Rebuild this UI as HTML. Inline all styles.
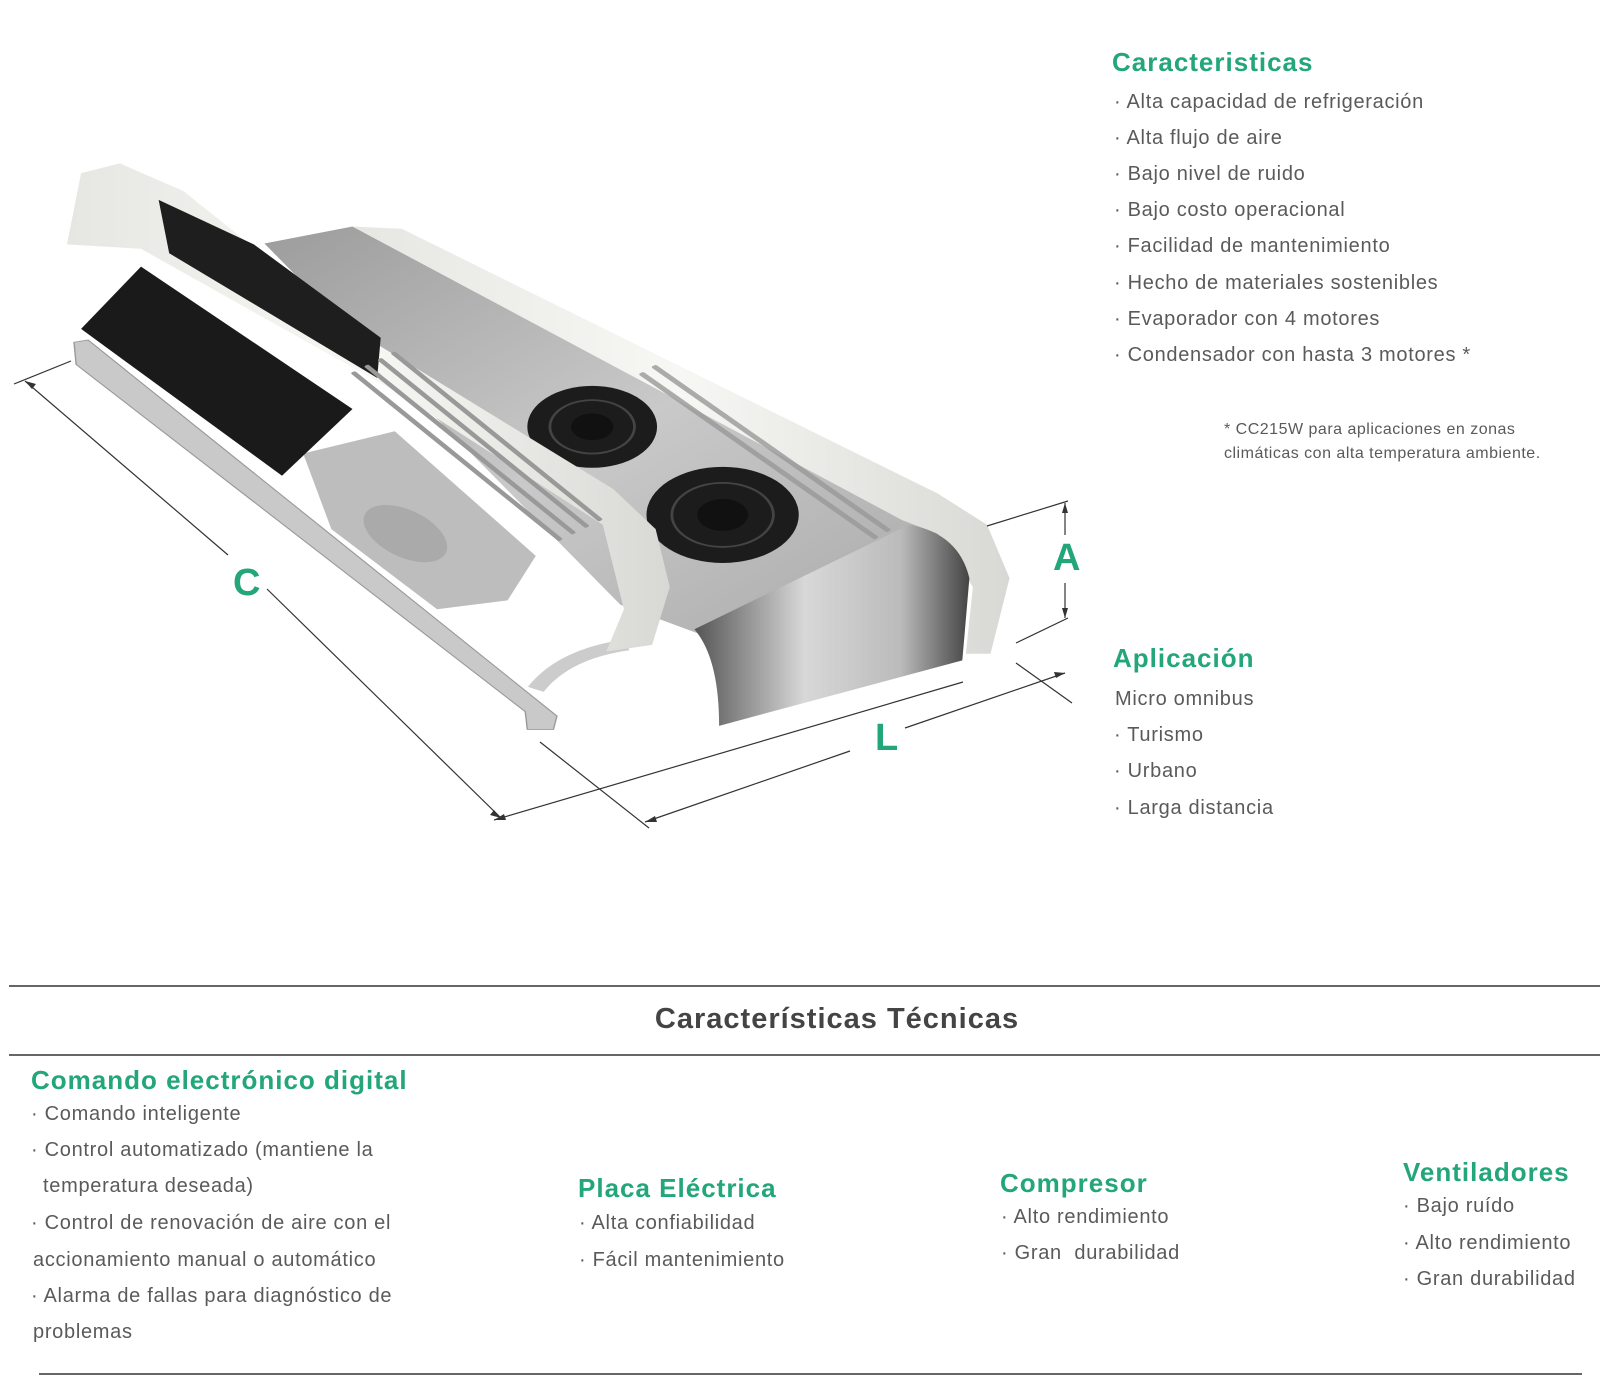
<!DOCTYPE html>
<html><head><meta charset="utf-8"><style>
html,body{margin:0;padding:0;background:#fff;}
body{width:1602px;height:1398px;position:relative;overflow:hidden;font-family:"Liberation Sans",sans-serif;}
.t{position:absolute;white-space:nowrap;color:#5a5a5a;font-size:20px;letter-spacing:0.7px;line-height:22px;}
.h{position:absolute;white-space:nowrap;color:#22a67a;font-weight:bold;font-size:26px;letter-spacing:1px;line-height:30px;}
.hr{position:absolute;height:2px;background:#666;}
</style></head><body>
<svg width="1602" height="1398" style="position:absolute;left:0;top:0">
<defs>
<linearGradient id="sil" x1="0" y1="0" x2="1" y2="1"><stop offset="0" stop-color="#9c9c9c"/><stop offset="0.5" stop-color="#c9c9c9"/><stop offset="1" stop-color="#a8a8a8"/></linearGradient>
<linearGradient id="front" x1="0" y1="0" x2="1" y2="0"><stop offset="0" stop-color="#555"/><stop offset="0.4" stop-color="#d8d8d8"/><stop offset="0.75" stop-color="#bbb"/><stop offset="1" stop-color="#444"/></linearGradient>
<linearGradient id="wh" x1="0" y1="0" x2="1" y2="0"><stop offset="0" stop-color="#e6e6e2"/><stop offset="0.5" stop-color="#f7f7f4"/><stop offset="1" stop-color="#d8d8d4"/></linearGradient>
</defs>
<g transform="translate(0,142) scale(0.705,0.445)">
<polygon points="375,228 500,190 1290,855 1380,900 1000,1110 880,1040" fill="url(#sil)"/>
<polygon points="500,190 570,195 1330,790 1400,860 1432,980 1405,1150 1370,1150 1380,1000 1330,880 1280,850" fill="url(#wh)"/>
<path d="M985,1095 L1290,860 Q1360,880 1375,980 L1365,1165 L1020,1312 Q1020,1160 985,1095 Z" fill="url(#front)"/>
<circle cx="840" cy="640" r="92" fill="#1c1c1c"/><circle cx="840" cy="640" r="60" fill="none" stroke="#444" stroke-width="4"/><circle cx="840" cy="640" r="30" fill="#111"/>
<circle cx="1025" cy="838" r="108" fill="#1c1c1c"/><circle cx="1025" cy="838" r="72" fill="none" stroke="#444" stroke-width="4"/><circle cx="1025" cy="838" r="36" fill="#111"/>
<polygon points="105,450 125,445 790,1290 785,1320 748,1320 745,1280 108,500" fill="#c9c9c9" stroke="#999" stroke-width="2"/>
<polygon points="430,700 560,650 760,930 720,1030 620,1050 470,870" fill="#bdbdbd"/>
<ellipse cx="575" cy="880" rx="45" ry="75" transform="rotate(-40 575 880)" fill="#aaa"/>
<path d="M760,1230 Q800,1150 890,1130" fill="none" stroke="#ccc" stroke-width="25"/>
<polygon points="115,420 200,280 500,600 400,750" fill="#1a1a1a"/>
<polygon points="95,230 115,70 170,48 260,110 520,440 870,780 930,870 950,1000 925,1130 860,1145 885,1050 855,860 560,560 200,240" fill="url(#wh)"/>
<polygon points="225,130 360,230 540,440 535,530 240,250" fill="#1e1e1e"/>
<g fill="#999">
<g transform="translate(560,470) rotate(52)"><rect x="0" y="0" width="480" height="8" rx="3"/><rect x="0" y="24" width="480" height="8" rx="3"/><rect x="0" y="48" width="480" height="8" rx="3"/><rect x="0" y="72" width="480" height="8" rx="3"/></g>
<g transform="translate(930,500) rotate(48)" opacity="0.8"><rect x="0" y="0" width="500" height="9" rx="3"/><rect x="0" y="24" width="500" height="9" rx="3"/></g>
</g>
</g>
<g stroke="#333" stroke-width="1.2" fill="none">
<line x1="14" y1="384" x2="71" y2="361"/>
<line x1="25" y1="381" x2="228" y2="555"/>
<line x1="267" y1="589" x2="501" y2="818"/>
<line x1="540" y1="742" x2="649" y2="828"/>
<line x1="494" y1="820" x2="963" y2="682"/>
<line x1="645" y1="822" x2="850" y2="751"/>
<line x1="905" y1="728" x2="1065" y2="673"/>
<line x1="1016" y1="663" x2="1072" y2="703"/>
<line x1="987" y1="526" x2="1068" y2="501"/>
<line x1="1016" y1="643" x2="1068" y2="618"/>
<line x1="1065" y1="503" x2="1065" y2="535"/>
<line x1="1065" y1="583" x2="1065" y2="618"/>
</g>
<g fill="#333">
<polygon points="25,381 36,384 32,389"/>
<polygon points="501,818 490,815 494,810"/>
<polygon points="494,820 504,814 506,820"/>
<polygon points="1065,673 1054,672 1056,678"/>
<polygon points="645,822 655,816 657,822"/>
<polygon points="1065,503 1062,513 1068,513"/>
<polygon points="1065,618 1062,608 1068,608"/>
</g>
</svg>
<div class="h" style="left:233px;top:563px;font-size:38px;line-height:40px">C</div>
<div class="h" style="left:875px;top:718px;font-size:38px;line-height:40px">L</div>
<div class="h" style="left:1053px;top:538px;font-size:38px;line-height:40px">A</div>

<div class="h" style="left:1112px;top:47px">Caracteristicas</div>
<div class="t" style="left:1114px;top:91px">· Alta capacidad de refrigeración</div>
<div class="t" style="left:1114px;top:127px">· Alta flujo de aire</div>
<div class="t" style="left:1114px;top:163px">· Bajo nivel de ruido</div>
<div class="t" style="left:1114px;top:199px">· Bajo costo operacional</div>
<div class="t" style="left:1114px;top:235px">· Facilidad de mantenimiento</div>
<div class="t" style="left:1114px;top:272px">· Hecho de materiales sostenibles</div>
<div class="t" style="left:1114px;top:308px">· Evaporador con 4 motores</div>
<div class="t" style="left:1114px;top:344px">· Condensador con hasta 3 motores *</div>
<div class="t" style="left:1224px;top:420px;font-size:16px;letter-spacing:0.5px;line-height:20px">* CC215W para aplicaciones en zonas</div>
<div class="t" style="left:1224px;top:444px;font-size:16px;letter-spacing:0.5px;line-height:20px">climáticas con alta temperatura ambiente.</div>

<div class="h" style="left:1113px;top:643px">Aplicación</div>
<div class="t" style="left:1115px;top:688px">Micro omnibus</div>
<div class="t" style="left:1114px;top:724px">· Turismo</div>
<div class="t" style="left:1114px;top:760px">· Urbano</div>
<div class="t" style="left:1114px;top:797px">· Larga distancia</div>

<div class="hr" style="left:9px;top:985px;width:1591px"></div>
<div style="position:absolute;left:0;width:1674px;top:1003px;text-align:center;font-weight:bold;font-size:29px;letter-spacing:1px;color:#444">Características Técnicas</div>
<div class="hr" style="left:9px;top:1054px;width:1591px"></div>
<div class="hr" style="left:39px;top:1373px;width:1543px"></div>

<div class="h" style="left:31px;top:1065px">Comando electrónico digital</div>
<div class="t" style="left:31px;top:1103px">· Comando inteligente</div>
<div class="t" style="left:31px;top:1139px">· Control automatizado (mantiene la</div>
<div class="t" style="left:43px;top:1175px">temperatura deseada)</div>
<div class="t" style="left:31px;top:1212px">· Control de renovación de aire con el</div>
<div class="t" style="left:33px;top:1249px">accionamiento manual o automático</div>
<div class="t" style="left:31px;top:1285px">· Alarma de fallas para diagnóstico de</div>
<div class="t" style="left:33px;top:1321px">problemas</div>

<div class="h" style="left:578px;top:1173px">Placa Eléctrica</div>
<div class="t" style="left:579px;top:1212px">· Alta confiabilidad</div>
<div class="t" style="left:579px;top:1249px">· Fácil mantenimiento</div>

<div class="h" style="left:1000px;top:1168px">Compresor</div>
<div class="t" style="left:1001px;top:1206px">· Alto rendimiento</div>
<div class="t" style="left:1001px;top:1242px">· Gran &nbsp;durabilidad</div>

<div class="h" style="left:1403px;top:1157px">Ventiladores</div>
<div class="t" style="left:1403px;top:1195px">· Bajo ruído</div>
<div class="t" style="left:1403px;top:1232px">· Alto rendimiento</div>
<div class="t" style="left:1403px;top:1268px">· Gran durabilidad</div>
</body></html>
